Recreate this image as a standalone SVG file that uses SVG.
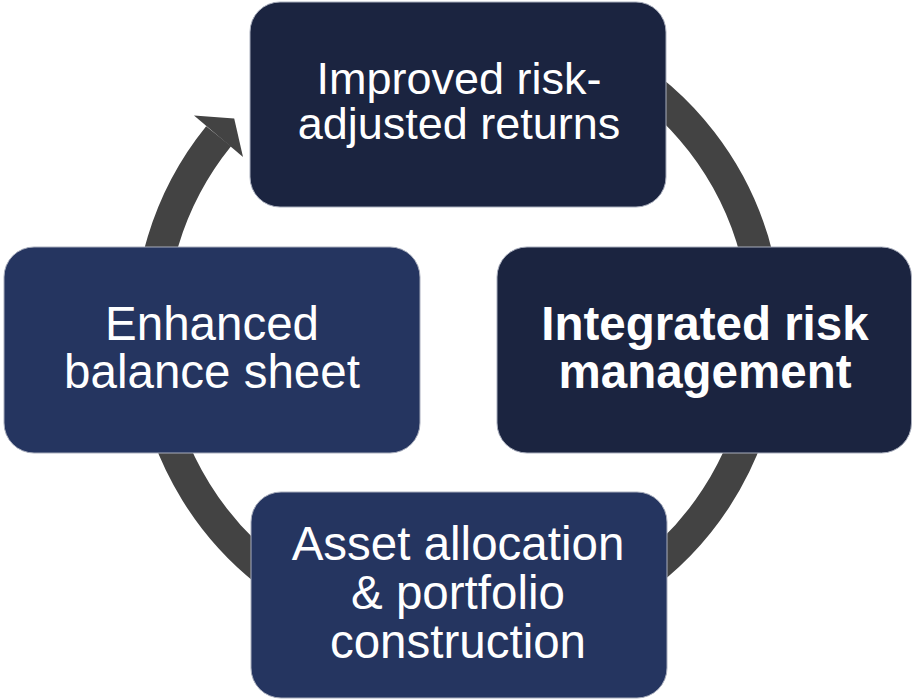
<svg xmlns="http://www.w3.org/2000/svg" width="912" height="699" viewBox="0 0 912 699">
  <style>
    .box { stroke: #a9aebd; stroke-width: 1; }
    .dark { fill: #1b2440; }
    .mid { fill: #253560; }
    .lbl { fill: #ffffff; font-family: "Liberation Sans", Arial, sans-serif; text-anchor: middle; }
    .ring { fill: none; stroke: #434343; stroke-width: 32; stroke-linecap: butt; }
  </style>
  <rect width="912" height="699" fill="#ffffff"/>
  <g id="connectors">
    <path class="ring" d="M 612 63.3 A 308 308 0 1 1 218.6 136.2"/>
    <polygon points="194,115.5 234.2,118.4 243,157" fill="#434343"/>
  </g>
  <g id="node-top">
    <rect class="box dark" x="250" y="2" width="416" height="205" rx="30" ry="30"/>
    <text class="lbl" x="459" y="94" font-size="45">Improved risk-</text>
    <text class="lbl" x="459" y="139" font-size="45">adjusted returns</text>
  </g>
  <g id="node-left">
    <rect class="box mid" x="4" y="247" width="416" height="206" rx="30" ry="30"/>
    <text class="lbl" x="212" y="340" font-size="47.5">Enhanced</text>
    <text class="lbl" x="212" y="388" font-size="47.5">balance sheet</text>
  </g>
  <g id="node-right">
    <rect class="box dark" x="497" y="247" width="414.5" height="206" rx="30" ry="30"/>
    <text class="lbl" x="705" y="340" font-size="47.5" font-weight="bold">Integrated risk</text>
    <text class="lbl" x="705" y="388" font-size="47.5" font-weight="bold">management</text>
  </g>
  <g id="node-bottom">
    <rect class="box mid" x="251" y="492" width="416" height="206" rx="30" ry="30"/>
    <text class="lbl" x="458" y="560" font-size="47.5">Asset allocation</text>
    <text class="lbl" x="458" y="608.5" font-size="47.5">&amp; portfolio</text>
    <text class="lbl" x="458" y="658" font-size="47.5">construction</text>
  </g>
</svg>
